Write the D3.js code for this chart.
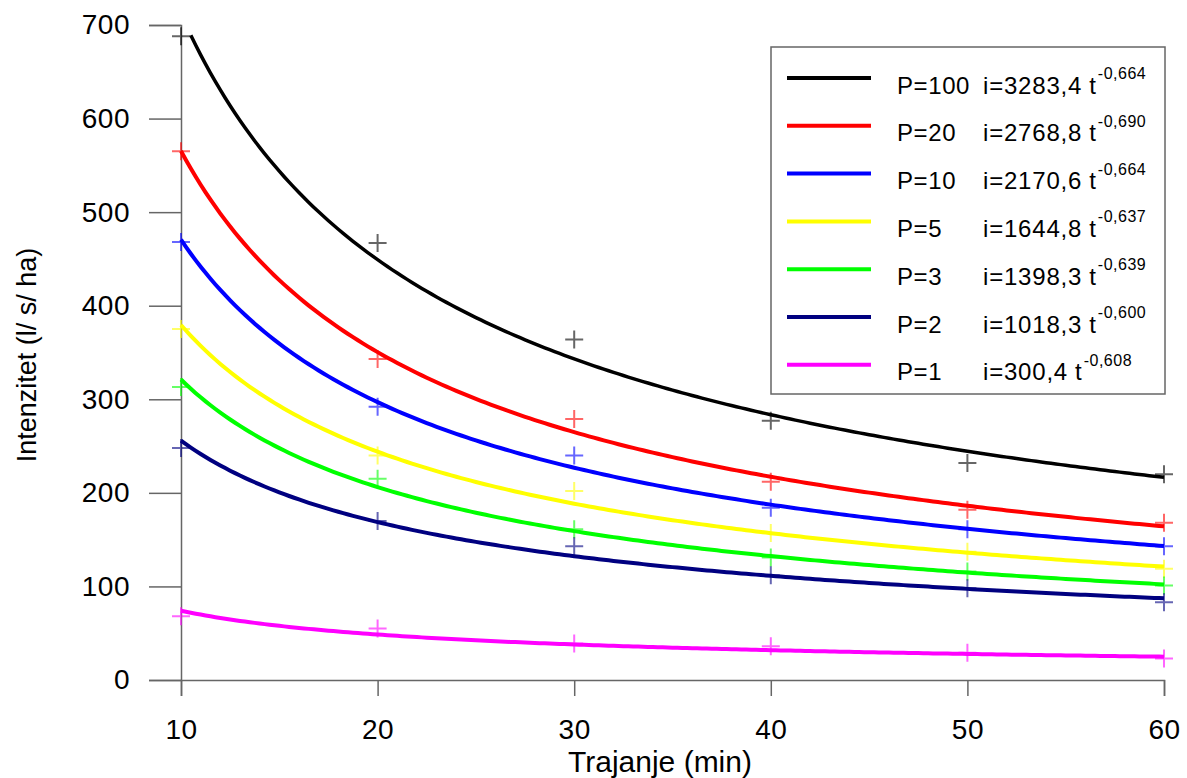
<!DOCTYPE html>
<html>
<head>
<meta charset="utf-8">
<script src="https://cdn.jsdelivr.net/npm/d3@7"></script>
<style>
	body { margin: 0; background: #fff; }
	text { font-family: "Liberation Sans", Arial, sans-serif; fill: #000; }
</style>
</head>
<body>
<div class="container"></div>
<script>
// return periods and fitted coefficients (i = a * t^b), as printed in the legend
var periods = [100, 20, 10, 5, 3, 2, 1];
var coef_a = [3283.4, 2768.8, 2170.6, 1644.8, 1398.3, 1018.3, 300.4];
var coef_b = [-0.664, -0.690, -0.664, -0.637, -0.639, -0.600, -0.608];
var curve_start = [10.5, 10, 10, 10, 10, 10, 10];

var durations = [10, 20, 30, 40, 50, 60];
var measured = [
	[688, 467, 364, 277, 232, 220],
	[565, 343, 279, 212, 182, 168],
	[468, 292, 240, 184, 161, 143],
	[375, 240, 202, 157, 137, 119],
	[313, 215, 161, 131, 116, 101],
	[248, 170, 143, 112, 98, 83],
	[68, 55, 39, 36, 29, 23]
];

var x_ticks = [10, 20, 30, 40, 50, 60];
var y_ticks = [0, 100, 200, 300, 400, 500, 600, 700];
var colors = ['#000000', '#ff0000', '#0000ff', '#ffff00', '#00ff00', '#000080', '#ff00ff'];

var margin = {top: 25, right: 23, bottom: 98, left: 181},
	width = 1187 - margin.left - margin.right,
	height = 778 - margin.top - margin.bottom;

var x_scale = d3.scaleLinear()
	.domain([10, 60])
	.range([0, width]);

var y_scale = d3.scaleLinear()
	.domain([0, 700])
	.range([height, 0]);

var svg = d3.select('.container').append('svg')
	.attr('width', 1187)
	.attr('height', 778);

var canvas = svg.append('g')
	.attr('transform', 'translate(' + margin.left + ',' + margin.top + ')');

// axes
var y_axis = d3.axisLeft(y_scale)
	.tickValues(y_ticks)
	.tickSize(32)
	.tickPadding(19);

var x_axis = d3.axisBottom(x_scale)
	.tickValues(x_ticks)
	.tickSize(16)
	.tickPadding(23);

var gy = canvas.append('g').call(y_axis);
var gx = canvas.append('g')
	.attr('transform', 'translate(0,' + height + ')')
	.call(x_axis);

[gx, gy].forEach(function(g) {
	g.selectAll('path, line').attr('stroke', '#666').attr('stroke-width', 1.5);
	g.selectAll('text')
		.style('font-size', '28px')
		.style('letter-spacing', '0.5px')
		.attr('fill', '#000')
		.style('font-family', '"Liberation Sans", Arial, sans-serif');
});

// crosses
measured.forEach(function(values, k) {
	canvas.append('g').selectAll('path')
		.data(values)
		.enter()
		.append('path')
		.attr('d', 'M-9,0H9M0,-9V9')
		.attr('transform', function(d, i) {
			return 'translate(' + x_scale(durations[i]) + ',' + y_scale(d) + ')';
		})
		.attr('stroke', colors[k])
		.attr('stroke-opacity', 0.6)
		.attr('stroke-width', 2)
		.attr('fill', 'none');
});

// fitted curves
var line_fn = d3.line()
	.x(function(d) { return x_scale(d.t); })
	.y(function(d) { return y_scale(d.i); });

periods.forEach(function(p, k) {
	var pts = [];
	for (var t = curve_start[k]; t <= 60.0001; t += 0.25) {
		pts.push({t: t, i: coef_a[k] * Math.pow(t, coef_b[k])});
	}
	canvas.append('path')
		.attr('d', line_fn(pts))
		.attr('stroke', colors[k])
		.attr('stroke-width', k === 0 ? 3.5 : 4)
		.attr('fill', 'none');
});

// legend
var legend = svg.append('g');
legend.append('rect')
	.attr('x', 771).attr('y', 47)
	.attr('width', 394).attr('height', 347)
	.attr('fill', '#fff')
	.attr('stroke', '#666')
	.attr('stroke-width', 1.5);

var fmt = function(v, n) { return v.toFixed(n).replace('.', ','); };

periods.forEach(function(p, k) {
	var ly = 78 + k * 47.8;
	var row = legend.append('g');
	row.append('line')
		.attr('x1', 787).attr('x2', 871)
		.attr('y1', ly).attr('y2', ly)
		.attr('stroke', colors[k])
		.attr('stroke-width', 4);
	row.append('text')
		.attr('x', 897).attr('y', ly + 15.6)
		.style('font-size', '24px')
		.style('letter-spacing', '0.6px')
		.text('P=' + p);
	var eq = row.append('text')
		.attr('x', 983).attr('y', ly + 15.6)
		.style('font-size', '24px')
		.style('letter-spacing', '0.8px')
		.text('i=' + fmt(coef_a[k], 1));
	var tx = 983 + eq.node().getComputedTextLength() + 7;
	var tt = row.append('text')
		.attr('x', tx).attr('y', ly + 15.6)
		.style('font-size', '24px')
		.text('t');
	row.append('text')
		.attr('x', tx + tt.node().getComputedTextLength() + 2).attr('y', ly + 1)
		.style('font-size', '16px')
		.style('letter-spacing', '0.5px')
		.text(fmt(coef_b[k], 3));
});

// axis titles
svg.append('text')
	.attr('x', 660).attr('y', 772)
	.attr('text-anchor', 'middle')
	.style('font-size', '30px')
	.text('Trajanje (min)');

svg.append('text')
	.attr('transform', 'translate(36,355) rotate(-90)')
	.attr('text-anchor', 'middle')
	.style('font-size', '27px')
	.text('Intenzitet (l/ s/ ha)');
</script>
</body>
</html>
